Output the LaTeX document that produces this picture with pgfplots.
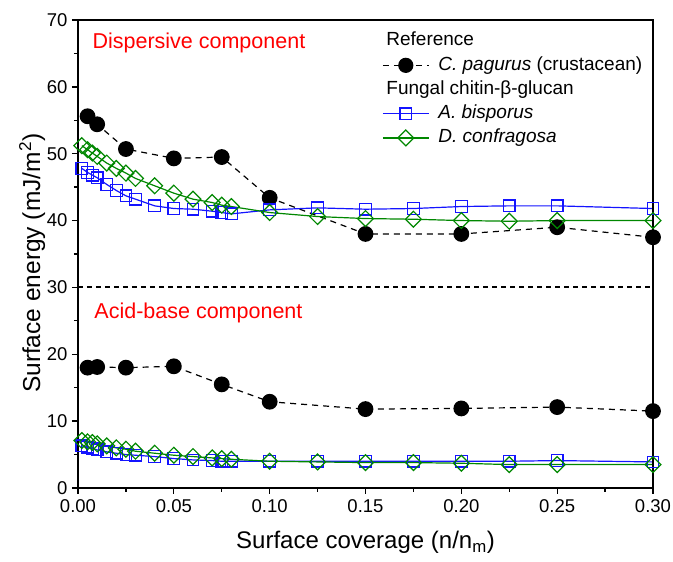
\documentclass[border=0pt]{standalone}
\usepackage{fontspec}
\setmainfont{Liberation Sans}
\usepackage{pgfplots}
\pgfplotsset{compat=1.18}
\definecolor{myblue}{RGB}{20,20,255}
\definecolor{mygreen}{RGB}{0,135,0}
\begin{document}
\begin{tikzpicture}
\begin{axis}[
  scale only axis, width=575bp, height=468bp,
  xmin=0, xmax=0.3, ymin=0, ymax=70,
  clip=false, axis on top,
  xtick={0,0.05,0.1,0.15,0.2,0.25,0.3},
  minor xtick={0.025,0.075,0.125,0.175,0.225,0.275},
  ytick={0,10,20,30,40,50,60,70},
  minor ytick={5,15,25,35,45,55,65},
  tick align=outside, tick pos=left,
  major tick length=6bp, minor tick length=4bp,
  every tick/.style={black, line width=1.3bp},
  axis line style={line width=1.6bp},
  /pgf/number format/assume math mode=true,
  ticklabel style={font=\fontsize{18.5bp}{21bp}\selectfont},
  x tick label style={yshift=-2bp, /pgf/number format/fixed, /pgf/number format/fixed zerofill, /pgf/number format/precision=2},
  y tick label style={xshift=-1bp},
  xlabel={Surface coverage (n/n\textsubscript{m})},
  ylabel={Surface energy (mJ/m\textsuperscript{2})},
  xlabel style={font=\fontsize{24bp}{28bp}\selectfont, at={(axis description cs:0.5,0)}, anchor=base, yshift=-61bp},
  ylabel style={font=\fontsize{24.5bp}{28bp}\selectfont, at={(axis description cs:-0.066,0.48)}, anchor=base},
  legend style={at={(0.5287,0.975)}, anchor=north west, draw=none, fill=none,
    font=\fontsize{19bp}{22bp}\selectfont, inner sep=0pt, row sep=5.7bp, column sep=9bp,
    nodes={inner sep=0pt, text height=14bp, text depth=4.5bp}},
  legend cell align=left,
  legend image code/.code={\draw[mark repeat=2,mark phase=2,#1] plot coordinates {(0bp,0bp) (23bp,0bp) (46bp,0bp)};},
]
% legend entries
\addlegendimage{empty legend}
\addlegendentry{\hspace{-52bp}Reference}
\addlegendimage{black, line width=1.2bp, dash pattern=on 6bp off 5bp, mark=*, mark size=7bp, mark options={solid}}
\addlegendentry{\textit{C. pagurus} (crustacean)}
\addlegendimage{empty legend}
\addlegendentry{\hspace{-52bp}Fungal chitin-β-glucan}
\addlegendimage{myblue, line width=1.2bp, mark=square, mark size=5.8bp, mark options={solid, fill=white, line width=1.2bp}}
\addlegendentry{\textit{A. bisporus}}
\addlegendimage{mygreen, line width=1.2bp, mark=square, mark size=5.6bp, mark options={solid, fill=white, line width=1.2bp, rotate=45}}
\addlegendentry{\textit{D. confragosa}}

% separator
\addplot[forget plot, black, line width=2bp, dash pattern=on 5bp off 4bp] coordinates {(0,30) (0.3,30)};

% C. pagurus
\addplot[forget plot, black, line width=1.2bp, dash pattern=on 6bp off 5bp, mark=*, mark size=7.3bp, mark options={solid}] coordinates {
(0.005,55.6) (0.01,54.4) (0.025,50.7) (0.05,49.3) (0.075,49.5) (0.1,43.4) (0.15,38.0) (0.2,38.0) (0.25,39.0) (0.3,37.5)};
\addplot[forget plot, black, line width=1.2bp, dash pattern=on 6bp off 5bp, mark=*, mark size=7.3bp, mark options={solid}] coordinates {
(0.005,18.0) (0.01,18.1) (0.025,18.0) (0.05,18.2) (0.075,15.5) (0.1,12.9) (0.15,11.8) (0.2,11.9) (0.25,12.1) (0.3,11.5)};

% A. bisporus
\addplot[forget plot, myblue, line width=1.2bp, mark=square, mark size=5.8bp, mark options={solid, fill=white, line width=1.2bp}] coordinates {
(0.002,47.8) (0.005,47.2) (0.0075,46.8) (0.01,46.4) (0.015,45.4) (0.02,44.5) (0.025,43.7) (0.03,43.2) (0.04,42.2) (0.05,41.8) (0.06,41.7) (0.07,41.4) (0.075,41.2) (0.08,41.0) (0.1,41.6) (0.125,41.9) (0.15,41.7) (0.175,41.8) (0.2,42.1) (0.225,42.2) (0.25,42.2) (0.3,41.8)};
\addplot[forget plot, myblue, line width=1.2bp, mark=square, mark size=5.8bp, mark options={solid, fill=white, line width=1.2bp}] coordinates {
(0.002,6.3) (0.005,6.1) (0.0075,5.9) (0.01,5.7) (0.015,5.4) (0.02,5.2) (0.025,5.0) (0.03,4.9) (0.04,4.7) (0.05,4.4) (0.06,4.2) (0.07,4.1) (0.075,4.0) (0.08,4.0) (0.1,4.0) (0.125,4.0) (0.15,4.0) (0.175,4.0) (0.2,4.0) (0.225,4.0) (0.25,4.1) (0.3,3.9)};

% D. confragosa
\addplot[forget plot, mygreen, line width=1.2bp, mark=square, mark size=5.6bp, mark options={solid, fill=white, line width=1.2bp, rotate=45}] coordinates {
(0.002,51.2) (0.005,50.6) (0.0075,50.1) (0.01,49.6) (0.015,48.6) (0.02,47.8) (0.025,47.1) (0.03,46.3) (0.04,45.2) (0.05,44.1) (0.06,43.2) (0.07,42.7) (0.075,42.3) (0.08,42.1) (0.1,41.2) (0.125,40.6) (0.15,40.3) (0.175,40.2) (0.2,40.0) (0.225,39.9) (0.25,40.0) (0.3,40.0)};
\addplot[forget plot, mygreen, line width=1.2bp, mark=square, mark size=5.6bp, mark options={solid, fill=white, line width=1.2bp, rotate=45}] coordinates {
(0.002,7.1) (0.005,6.9) (0.0075,6.8) (0.01,6.6) (0.015,6.3) (0.02,6.0) (0.025,5.8) (0.03,5.5) (0.04,5.2) (0.05,4.9) (0.06,4.7) (0.07,4.5) (0.075,4.4) (0.08,4.3) (0.1,4.0) (0.125,3.9) (0.15,3.8) (0.175,3.8) (0.2,3.7) (0.225,3.5) (0.25,3.5) (0.3,3.5)};

\node[anchor=base west, inner sep=0pt, text=red, font=\fontsize{21.5bp}{25bp}\selectfont] at (axis cs:0.0075,65.77) {Dispersive component};
\node[anchor=base west, inner sep=0pt, text=red, font=\fontsize{21.5bp}{25bp}\selectfont] at (axis cs:0.0085,25.38) {Acid-base component};

\coordinate (bl) at (rel axis cs:0,0);
\coordinate (tr) at (rel axis cs:1,1);
\end{axis}
\pgfresetboundingbox
\path ([xshift=-78bp,yshift=-74bp]bl) rectangle ([xshift=20bp,yshift=20bp]tr);
\end{tikzpicture}
\end{document}
